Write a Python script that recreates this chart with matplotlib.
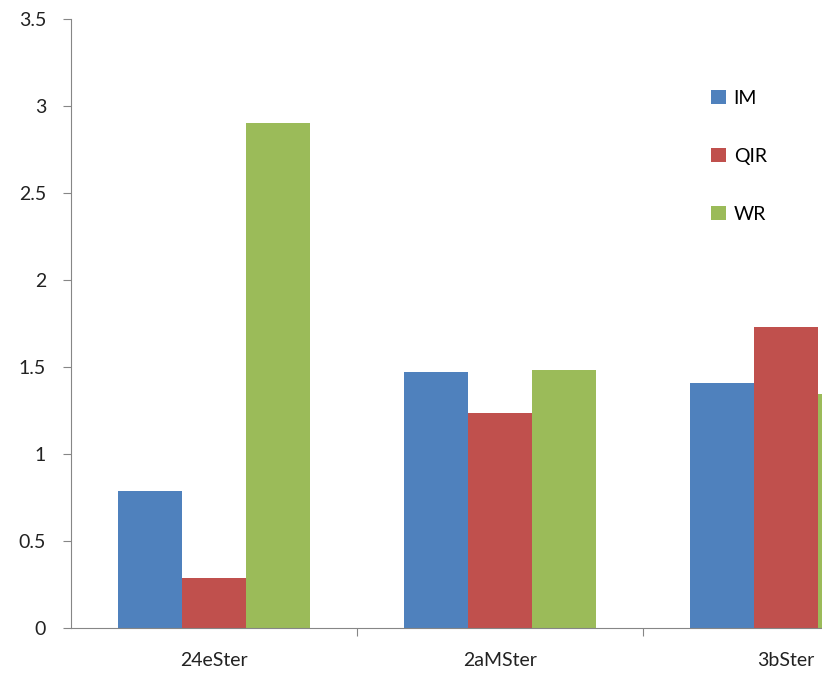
import numpy as np
import matplotlib.pyplot as plt

categories = ['24eSter', '2aMSter', '3bSter']
series = ['IM', 'QIR', 'WR']
im_vals = [0.79, 1.47, 1.41]
qir_vals = [0.285, 1.235, 1.73]
wr_vals = [2.90, 1.48, 1.345]
colors = ['#4F81BD', '#C0504D', '#9BBB59']

plt.rcParams['font.family'] = ['Lato', 'DejaVu Sans']

fig = plt.figure(figsize=(8.22, 6.77), dpi=100)
# the plot area runs past the right edge of the figure
ax = fig.add_axes([71 / 822, 49 / 677, 858 / 822, 609 / 677])

x = np.arange(len(categories))
w = 0.224
for i, (name, vals) in enumerate(zip(series, [im_vals, qir_vals, wr_vals])):
    ax.bar(x + (i - 1) * w, vals, width=w, color=colors[i], label=name)

ax.set_xlim(-0.5, 2.5)
ax.set_ylim(0, 3.5)
ax.set_yticks(np.arange(0, 3.51, 0.5))
ax.set_yticklabels(['0', '0.5', '1', '1.5', '2', '2.5', '3', '3.5'])

# category labels centred, ticks on the boundaries
ax.set_xticks([0.5, 1.5, 2.5])
ax.set_xticklabels([])
ax.set_xticks(x, minor=True)
ax.set_xticklabels(categories, minor=True)
ax.tick_params(axis='x', which='minor', length=0, pad=17)
ax.tick_params(axis='x', which='major', length=6, color='#868686')
ax.tick_params(axis='y', length=6, color='#868686', pad=12)
ax.tick_params(which='both', labelsize=14, labelcolor='#222222')

for s in ['top', 'right']:
    ax.spines[s].set_visible(False)
for s in ['left', 'bottom']:
    ax.spines[s].set_color('#868686')

ax.legend(loc='upper left', bbox_to_anchor=(0.735, 0.9), frameon=False,
          fontsize=14, handlelength=0.75, handleheight=0.75, handletextpad=0.4,
          labelspacing=2.12, borderpad=0)

fig.savefig('out.png', dpi=100)
